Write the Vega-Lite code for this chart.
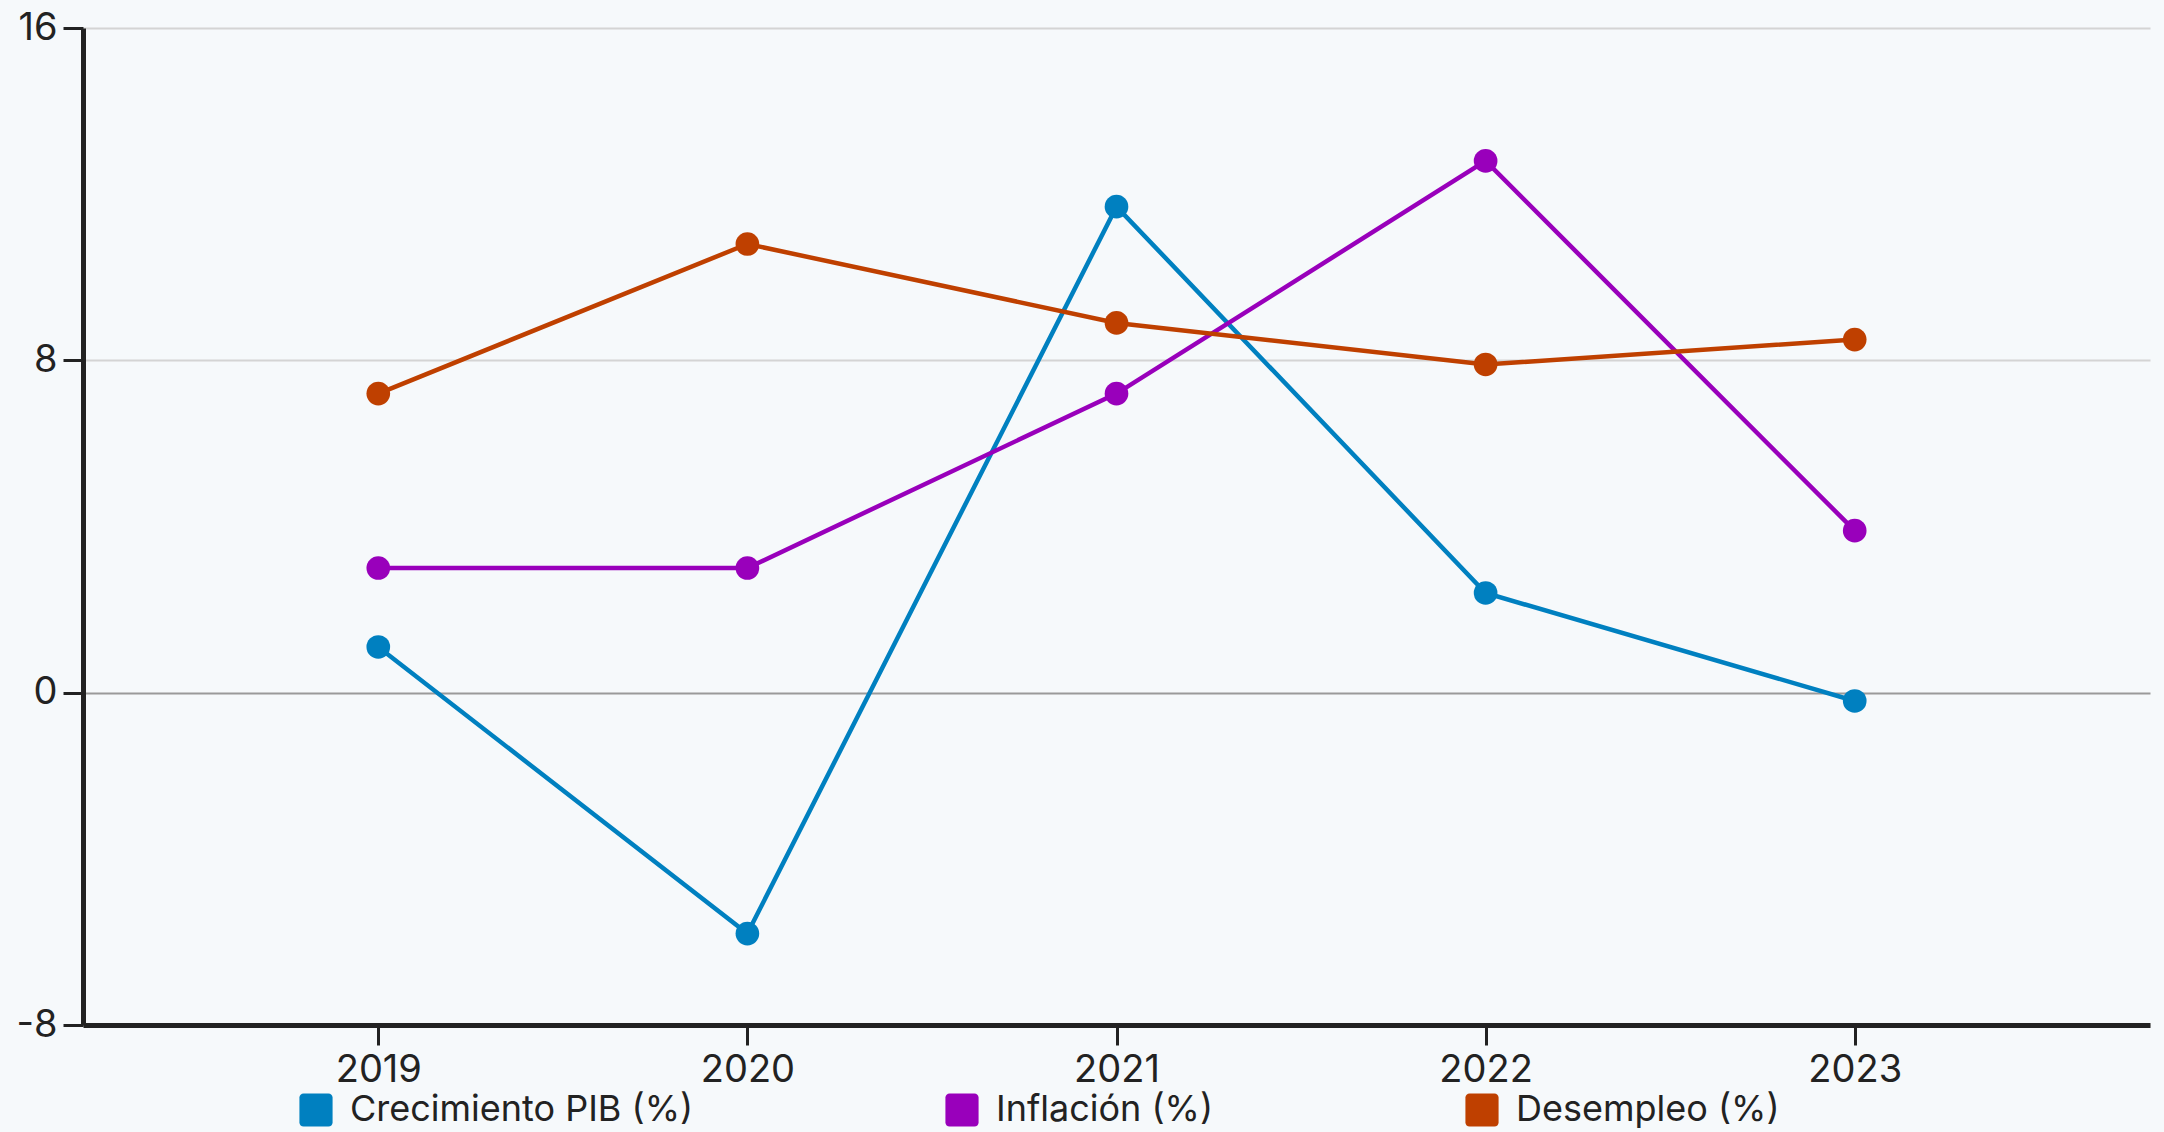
{
  "$schema": "https://vega.github.io/schema/vega-lite/v6.json",
  "autosize": "none",
  "width": 2067,
  "height": 997,
  "padding": {"left": 83, "top": 28, "right": 14, "bottom": 107},
  "background": "#f6f9fb",
  "config": {
    "font": "Inter",
    "view": {"stroke": null},
    "axis": {"labelFont": "Inter", "labelColor": "#222222", "labelFontSize": 38, "domainColor": "#222222", "domainWidth": 5, "tickColor": "#222222", "tickWidth": 3, "tickSize": 20, "title": null}
  },
  "data": {
    "values": [
      {"year": "2019", "series": "Crecimiento PIB (%)", "value": 1.1},
      {"year": "2020", "series": "Crecimiento PIB (%)", "value": -5.8},
      {"year": "2021", "series": "Crecimiento PIB (%)", "value": 11.7},
      {"year": "2022", "series": "Crecimiento PIB (%)", "value": 2.4},
      {"year": "2023", "series": "Crecimiento PIB (%)", "value": -0.2},
      {"year": "2019", "series": "Inflación (%)", "value": 3.0},
      {"year": "2020", "series": "Inflación (%)", "value": 3.0},
      {"year": "2021", "series": "Inflación (%)", "value": 7.2},
      {"year": "2022", "series": "Inflación (%)", "value": 12.8},
      {"year": "2023", "series": "Inflación (%)", "value": 3.9},
      {"year": "2019", "series": "Desempleo (%)", "value": 7.2},
      {"year": "2020", "series": "Desempleo (%)", "value": 10.8},
      {"year": "2021", "series": "Desempleo (%)", "value": 8.9},
      {"year": "2022", "series": "Desempleo (%)", "value": 7.9},
      {"year": "2023", "series": "Desempleo (%)", "value": 8.5}
    ]
  },
  "mark": {"type": "line", "strokeWidth": 4.5, "point": {"filled": true, "size": 560, "opacity": 1}},
  "encoding": {
    "x": {
      "field": "year", "type": "ordinal",
      "scale": {"type": "point", "padding": 0.8},
      "axis": {"labelAngle": 0, "labelPadding": 6, "grid": false}
    },
    "y": {
      "field": "value", "type": "quantitative",
      "scale": {"domain": [-8, 16], "nice": false, "zero": false},
      "axis": {
        "values": [-8, 0, 8, 16], "labelPadding": 6, "grid": true, "gridWidth": 2,
        "labelExpr": "replace(datum.label, '−', '-')",
        "gridColor": {"condition": {"test": "datum.value === 0", "value": "#9a9a9a"}, "value": "#d4d4d4"}
      }
    },
    "color": {
      "field": "series", "type": "nominal",
      "sort": ["Crecimiento PIB (%)", "Inflación (%)", "Desempleo (%)"],
      "scale": {"domain": ["Crecimiento PIB (%)", "Inflación (%)", "Desempleo (%)"], "range": ["#0080c0", "#9900bb", "#bf4000"]},
      "legend": {
        "orient": "none", "legendX": 215, "legendY": 1064, "direction": "horizontal", "title": null,
        "symbolType": "M-1,-0.75A0.25,0.25 0 0 1 -0.75,-1L0.75,-1A0.25,0.25 0 0 1 1,-0.75L1,0.75A0.25,0.25 0 0 1 0.75,1L-0.75,1A0.25,0.25 0 0 1 -1,0.75Z",
        "symbolSize": 1100, "symbolStrokeWidth": 0, "symbolOpacity": 1,
        "labelFontSize": 36, "labelColor": "#222222", "labelFont": "Inter", "labelOffset": 16,
        "columnPadding": 250, "labelLimit": 600
      }
    }
  }
}
